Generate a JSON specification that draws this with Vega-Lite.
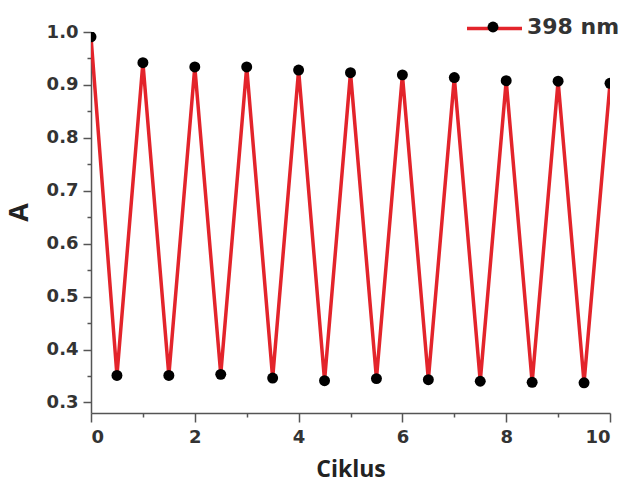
{
  "$schema": "https://vega.github.io/schema/vega-lite/v6.json",
  "width": 519,
  "height": 381,
  "autosize": {"type": "none"},
  "padding": {"left": 91, "top": 32, "right": 15, "bottom": 70},
  "background": "white",
  "config": {
    "view": {"stroke": null},
    "axis": {
      "grid": false,
      "domainColor": "#555555",
      "domainWidth": 1.5,
      "tickColor": "#555555",
      "tickWidth": 1.5,
      "labelFont": "DejaVu Sans",
      "labelFontWeight": "bold",
      "labelFontSize": 18,
      "labelColor": "#333333",
      "titleFont": "Open Sans",
      "titleFontWeight": "bold",
      "titleFontSize": 23,
      "titleColor": "#222222"
    }
  },
  "data": {
    "values": [
      {"cycle": 0, "A": 0.991, "series": "398 nm"},
      {"cycle": 0.5, "A": 0.351, "series": "398 nm"},
      {"cycle": 1, "A": 0.942, "series": "398 nm"},
      {"cycle": 1.5, "A": 0.351, "series": "398 nm"},
      {"cycle": 2, "A": 0.934, "series": "398 nm"},
      {"cycle": 2.5, "A": 0.353, "series": "398 nm"},
      {"cycle": 3, "A": 0.934, "series": "398 nm"},
      {"cycle": 3.5, "A": 0.346, "series": "398 nm"},
      {"cycle": 4, "A": 0.928, "series": "398 nm"},
      {"cycle": 4.5, "A": 0.341, "series": "398 nm"},
      {"cycle": 5, "A": 0.923, "series": "398 nm"},
      {"cycle": 5.5, "A": 0.345, "series": "398 nm"},
      {"cycle": 6, "A": 0.919, "series": "398 nm"},
      {"cycle": 6.5, "A": 0.343, "series": "398 nm"},
      {"cycle": 7, "A": 0.914, "series": "398 nm"},
      {"cycle": 7.5, "A": 0.340, "series": "398 nm"},
      {"cycle": 8, "A": 0.908, "series": "398 nm"},
      {"cycle": 8.5, "A": 0.338, "series": "398 nm"},
      {"cycle": 9, "A": 0.907, "series": "398 nm"},
      {"cycle": 9.5, "A": 0.337, "series": "398 nm"},
      {"cycle": 10, "A": 0.903, "series": "398 nm"}
    ]
  },
  "encoding": {
    "x": {
      "field": "cycle",
      "type": "quantitative",
      "scale": {"domain": [0, 10], "nice": false},
      "axis": {
        "title": "Ciklus",
        "values": [0, 1, 2, 3, 4, 5, 6, 7, 8, 9, 10],
        "labelExpr": "datum.value % 2 == 0 ? datum.label : ''",
        "tickSize": {"condition": {"test": "datum.value % 2 == 0", "value": 9}, "value": 4},
        "labelPadding": 6,
        "titlePadding": 12
      }
    },
    "y": {
      "field": "A",
      "type": "quantitative",
      "scale": {"domain": [0.28, 1.0], "nice": false, "zero": false},
      "axis": {
        "title": "A",
        "titleFontSize": 27,
        "titleY": 180,
        "values": [0.3, 0.35, 0.4, 0.45, 0.5, 0.55, 0.6, 0.65, 0.7, 0.75, 0.8, 0.85, 0.9, 0.95, 1.0],
        "format": ".1f",
        "labelExpr": "abs(datum.value * 10 - round(datum.value * 10)) < 0.001 ? datum.label : ''",
        "tickSize": {"condition": {"test": "abs(datum.value * 10 - round(datum.value * 10)) < 0.001", "value": 8}, "value": 4},
        "labelPadding": 5,
        "titlePadding": 13
      }
    }
  },
  "layer": [
    {
      "mark": {"type": "line", "strokeWidth": 3.5, "clip": true},
      "encoding": {
        "color": {
          "field": "series",
          "type": "nominal",
          "scale": {"range": ["#e3242b"]},
          "legend": {
            "orient": "none",
            "legendX": 374,
            "legendY": -33,
            "title": null,
            "padding": 0,
            "symbolType": "stroke",
            "symbolSize": 3025,
            "symbolStrokeWidth": 3.5,
            "labelExpr": "''"
          }
        }
      }
    },
    {
      "mark": {"type": "circle", "size": 120, "opacity": 1, "clip": true},
      "encoding": {
        "fill": {
          "field": "series",
          "type": "nominal",
          "scale": {"range": ["#000000"]},
          "legend": {
            "orient": "none",
            "legendX": 391,
            "legendY": -16,
            "title": null,
            "padding": 0,
            "symbolType": "circle",
            "symbolSize": 120,
            "symbolOpacity": 1,
            "labelOffset": 23,
            "labelFont": "DejaVu Sans",
            "labelFontSize": 22,
            "labelFontWeight": "bold",
            "labelColor": "#333333"
          }
        }
      }
    }
  ]
}
